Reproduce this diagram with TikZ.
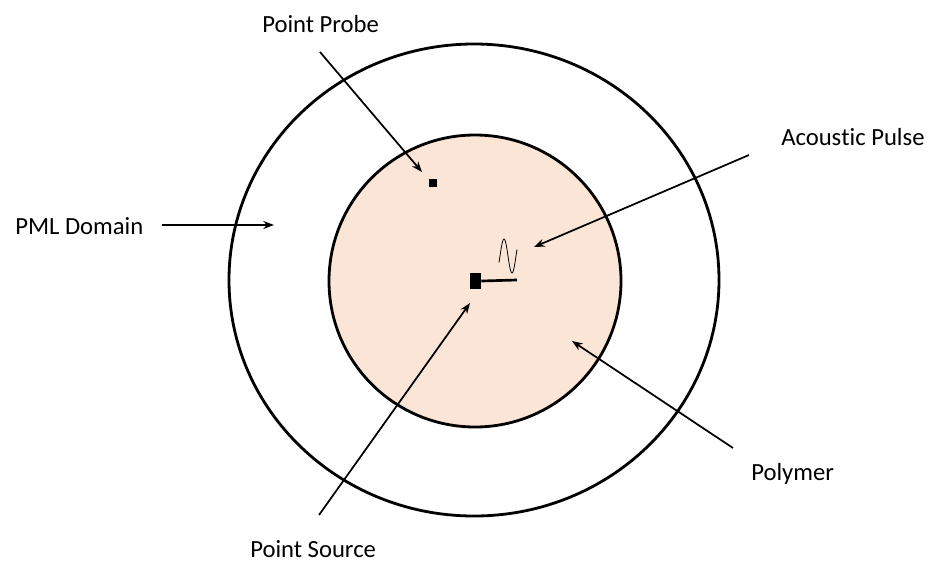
\documentclass[tikz,border=0pt]{standalone}
\usepackage{fontspec}
\setmainfont[Ligatures={NoCommon,NoContextual,NoRare},RawFeature={-calt}]{Carlito}
\usetikzlibrary{arrows.meta}
\definecolor{polyfill}{HTML}{FBE5D6}
\begin{document}
\begin{tikzpicture}[x=0.75pt,y=-0.75pt,
  ring/.style={draw=black,line width=2.1pt},
  pointer/.style={draw=black,line width=1.3pt,-{Stealth[length=8pt,width=6pt]}},
  lbl/.style={inner sep=0pt,font=\fontsize{18.5}{22}\selectfont}]
\useasboundingbox (0,0) rectangle (932,562);
% domains
\draw[ring] (474,280) ellipse [x radius=245, y radius=236];
\draw[ring,fill=polyfill] (475,281) circle [radius=146];
% point probe
\node[fill=black,minimum size=6pt,inner sep=0pt] (probe) at (433,183) {};
% point source
\node[fill=black,minimum width=8.25pt,minimum height=12pt,inner sep=0pt] (src) at (475.5,281) {};
\coordinate (srcend) at (517,280);
\draw[line width=2pt] (src.east) -- (srcend);
% acoustic pulse
\draw[line width=0.6pt,smooth,domain=499:517,samples=60] plot (\x,{256-17*sin((\x-500)*22.5)});
% labels
\node[lbl,anchor=base west] (lprobe) at (262,32) {Point Probe};
\node[lbl,anchor=base west] (lpulse) at (781,145) {Acous\kern0pt tic Pulse};
\node[lbl,anchor=base west] (lpml) at (15,234) {PML Domain};
\node[lbl,anchor=base west] (lpoly) at (751,480) {Polymer};
\node[lbl,anchor=base west] (lsrc) at (250,557) {Point Source};
% arrow ends
\coordinate (aprobeS) at (320,52);  \coordinate (aprobeE) at (422,172);
\coordinate (apulseS) at (749,155); \coordinate (apulseE) at (534,247);
\coordinate (apmlS) at (162,225);   \coordinate (apmlE) at (274,225);
\coordinate (apolyS) at (733,448);  \coordinate (apolyE) at (572,341);
\coordinate (asrcS) at (319,515);   \coordinate (asrcE) at (470,303);
\draw[pointer] (aprobeS) -- (aprobeE);
\draw[pointer] (apulseS) -- (apulseE);
\draw[pointer] (apmlS) -- (apmlE);
\draw[pointer] (apolyS) -- (apolyE);
\draw[pointer] (asrcS) -- (asrcE);
\end{tikzpicture}
\end{document}
